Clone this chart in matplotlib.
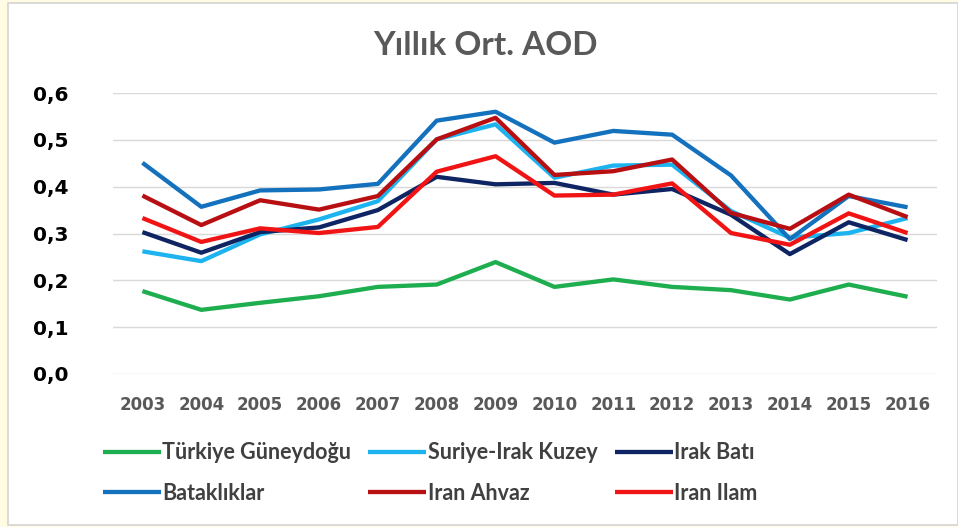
import matplotlib
matplotlib.use("Agg")
import matplotlib.pyplot as plt
from matplotlib.patches import Rectangle

# yillik ortalama AOD degerleri
years = list(range(2003, 2017))
turkiye = [0.177, 0.137, 0.152, 0.166, 0.186, 0.191, 0.239, 0.186, 0.202, 0.186, 0.179, 0.159, 0.191, 0.165]
suriye = [0.262, 0.241, 0.298, 0.330, 0.369, 0.501, 0.533, 0.419, 0.445, 0.447, 0.348, 0.291, 0.301, 0.333]
irak_bati = [0.303, 0.259, 0.303, 0.313, 0.350, 0.421, 0.405, 0.408, 0.383, 0.395, 0.340, 0.256, 0.324, 0.286]
bataklik = [0.451, 0.357, 0.392, 0.394, 0.406, 0.541, 0.560, 0.494, 0.519, 0.511, 0.424, 0.288, 0.380, 0.356]
ahvaz = [0.381, 0.318, 0.371, 0.351, 0.380, 0.501, 0.547, 0.425, 0.433, 0.458, 0.344, 0.310, 0.383, 0.335]
ilam = [0.333, 0.282, 0.311, 0.301, 0.314, 0.432, 0.465, 0.381, 0.383, 0.407, 0.301, 0.276, 0.343, 0.301]
y_ticks = [0.0, 0.1, 0.2, 0.3, 0.4, 0.5, 0.6]
y_labels = ['0,0', '0,1', '0,2', '0,3', '0,4', '0,5', '0,6']

series = [
    ('Türkiye Güneydoğu', turkiye, '#1fae4f'),
    ('Suriye-Irak Kuzey', suriye, '#1cb3ee'),
    ('Irak Batı', irak_bati, '#0e2463'),
    ('Bataklıklar', bataklik, '#1371bd'),
    ('Iran Ahvaz', ahvaz, '#b80f12'),
    ('Iran Ilam', ilam, '#f01414'),
]

fig = plt.figure(figsize=(9.58, 5.27), dpi=100)
fig.patch.set_facecolor('#fffce3')
fig.patches.append(Rectangle((8 / 958, 2 / 527), 950 / 958, 522 / 527, transform=fig.transFigure,
                             facecolor='white', edgecolor='#d4d4d4', linewidth=1.2, zorder=-5))

ax = fig.add_axes([113 / 958, 1 - 374 / 527, (937 - 113) / 958, (374 - 93) / 527])
ax.set_facecolor('none')

lines = {}
for name, vals, col in series:
    ln, = ax.plot(years, vals, color=col, linewidth=3.1, label=name, solid_capstyle='butt')
    lines[name] = ln

ax.set_xlim(2002.5, 2016.5)
ax.set_ylim(0, 0.6)
ax.set_yticks(y_ticks)
ax.set_yticklabels(y_labels)
ax.set_xticks(years)
ax.set_xticklabels([str(y) for y in years])
ax.grid(True, axis='y', color='#d9d9d9', linewidth=1)
ax.set_axisbelow(True)
for s in ax.spines.values():
    s.set_visible(False)
ax.tick_params(axis='y', length=0, pad=32, labelsize=14.5, labelcolor='black')
ax.tick_params(axis='x', length=0, pad=16, labelsize=12, labelcolor='#595959')
for lab in ax.get_yticklabels() + ax.get_xticklabels():
    lab.set_fontweight('bold')

fig.text(485 / 958, 1 - 45 / 527, 'Yıllık Ort. AOD', ha='center', va='center',
         fontsize=24, fontweight='bold', color='#595959', family='Lato')

# legend satir sirasi: matplotlib sutun sutun doldurur
order = ['Türkiye Güneydoğu', 'Bataklıklar', 'Suriye-Irak Kuzey', 'Iran Ahvaz', 'Irak Batı', 'Iran Ilam']
leg = fig.legend([lines[n] for n in order], order, ncol=3, frameon=False,
                 loc='center', bbox_to_anchor=(430 / 958, 1 - 473 / 527),
                 prop={'family': 'Lato', 'weight': 'bold', 'size': 15.5},
                 handlelength=2.7, handletextpad=0.05, columnspacing=0.8, labelspacing=0.9)
for t in leg.get_texts():
    t.set_color('#404040')

fig.savefig('out.png', dpi=100, facecolor=fig.get_facecolor())
